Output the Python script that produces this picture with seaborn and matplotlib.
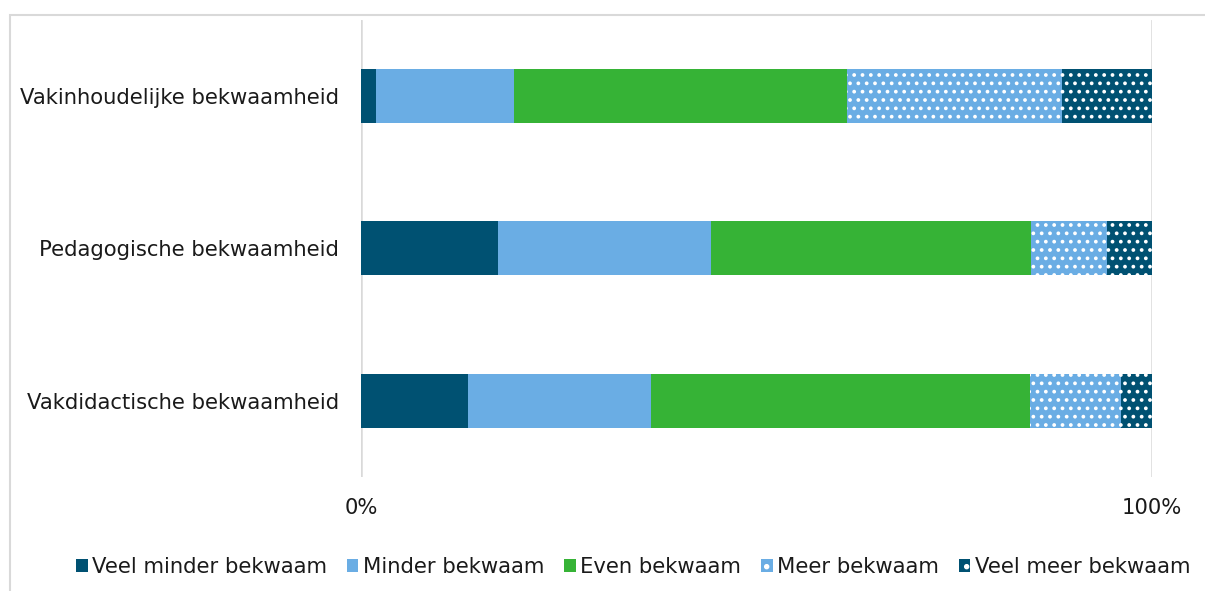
import matplotlib
matplotlib.use("Agg")
import matplotlib.pyplot as plt
from matplotlib.patches import Patch, Rectangle
import seaborn as sns
import pandas as pd
import numpy as np

categories = ["Vakinhoudelijke bekwaamheid", "Pedagogische bekwaamheid", "Vakdidactische bekwaamheid"]
series = ["Veel minder bekwaam", "Minder bekwaam", "Even bekwaam", "Meer bekwaam", "Veel meer bekwaam"]
veel_minder = [1.9, 17.3, 13.5]
minder = [17.4, 26.9, 23.1]
even = [42.2, 40.5, 48.0]
meer = [27.1, 9.6, 11.5]
veel_meer = [11.4, 5.7, 3.9]

colors = ["#005172", "#6aade4", "#36b336", "#6aade4", "#005172"]
hatches = [None, None, None, "..", ".."]

sns.set_theme(style="white")
plt.rcParams["font.family"] = ["DejaVu Sans"]
plt.rcParams["hatch.linewidth"] = 1.5

fig = plt.figure(figsize=(12.05, 5.91), dpi=100)
ax = fig.add_axes([361 / 1205, 1 - 477 / 591, 791 / 1205, 457.5 / 591])

values = [veel_minder, minder, even, meer, veel_meer]
cum = np.cumsum(np.array(values), axis=0) / 100.0

for i in range(len(series) - 1, -1, -1):
    df = pd.DataFrame({"cat": categories, "val": cum[i]})
    sns.barplot(data=df, y="cat", x="val", orient="h", color=colors[i],
                width=0.355, ax=ax, saturation=1,
                edgecolor="white" if hatches[i] else colors[i],
                linewidth=0, hatch=hatches[i])

ax.set_xlim(0, 1)
ax.set_ylim(2.5, -0.5)
ax.set_xticks([0, 1])
ax.set_xticklabels(["0%", "100%"])
ax.set_xlabel("")
ax.set_ylabel("")
for s in ax.spines.values():
    s.set_visible(False)
ax.grid(False)
for xv in [0, 1]:
    ax.axvline(xv, color="#d9d9d9", lw=1.8, zorder=0)
ax.tick_params(axis="both", length=0, labelsize=15.2, colors="#1a1a1a")
ax.tick_params(axis="x", pad=15)
ax.tick_params(axis="y", pad=16)

handles = [Patch(facecolor=colors[i], edgecolor="white" if hatches[i] else colors[i],
                 hatch=("." if hatches[i] else None), linewidth=0, label=series[i])
           for i in range(len(series))]
fig.legend(handles=handles, loc="center", bbox_to_anchor=(633 / 1205, 1 - 567 / 591),
           ncol=5, frameon=False, fontsize=15.2, handlelength=0.55, handleheight=0.55,
           handletextpad=0.2, columnspacing=0.95, labelcolor="#1a1a1a")

fig.patches.append(Rectangle((9.5 / 1205, -0.1), 1.2, 1 - 14.5 / 591 + 0.1,
                             transform=fig.transFigure, fill=False,
                             edgecolor="#d9d9d9", lw=1.5))

fig.savefig("out.png", dpi=100)
